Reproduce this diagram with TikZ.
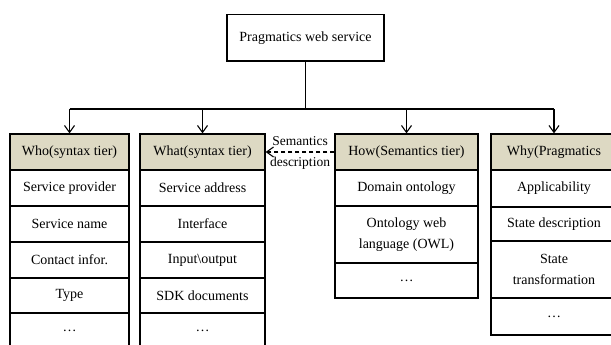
\documentclass[tikz,border=0pt]{standalone}
\usepackage{fontspec}
\setmainfont{Liberation Serif}
\usetikzlibrary{arrows.meta}
\definecolor{hdr}{RGB}{221,217,195}
\begin{document}
\begin{tikzpicture}[x=1pt,y=-1pt,
  cell/.style={draw, line width=1.2pt, inner sep=0pt, align=center,
    font=\fontsize{14}{21.5}\selectfont},
  hdrcell/.style={cell, fill=hdr},
  link/.style={line width=1.2pt},
  tip/.style={-{Straight Barb[length=7pt,width=10pt,line width=1.1pt]}},
  semlink/.style={link, tip, dash pattern=on 4pt off 3pt},
  note/.style={inner sep=0pt, align=center, font=\fontsize{13.5}{21}\selectfont},
]
\useasboundingbox (0,0) rectangle (611,345);
\clip (0,0) rectangle (611,345);

% root
\node[cell, minimum width=157pt, minimum height=46.5pt] (root) at (305.5,37.75) {Pragmatics web service};

% Who column
\begin{scope}[every node/.style={minimum width=119pt}]
\node[hdrcell, minimum height=36pt] (whoh) at (69.5,152) {Who(syntax tier)};
\node[cell, minimum height=36pt] (who1) at (69.5,188) {Service provider};
\node[cell, minimum height=36pt] (who2) at (69.5,224) {Service name};
\node[cell, minimum height=36pt] (who3) at (69.5,260) {Contact infor.};
\node[cell, minimum height=35pt] (who4) at (69.5,295.5) {Type};
\node[cell, minimum height=36pt] (who5) at (69.5,331) {\dots};
\end{scope}

% What column
\begin{scope}[every node/.style={minimum width=125pt}]
\node[hdrcell, minimum height=36pt] (whath) at (202.5,152) {What(syntax tier)};
\node[cell, minimum height=36pt] (what1) at (202.5,188) {Service address};
\node[cell, minimum height=36pt] (what2) at (202.5,224) {Interface};
\node[cell, minimum height=36pt] (what3) at (202.5,260) {Input\textbackslash output};
\node[cell, minimum height=35pt] (what4) at (202.5,295.5) {SDK documents};
\node[cell, minimum height=36pt] (what5) at (202.5,331) {\dots};
\end{scope}

% How column
\begin{scope}[every node/.style={minimum width=143pt}]
\node[hdrcell, minimum height=36pt] (howh) at (406.5,152) {How(Semantics tier)};
\node[cell, minimum height=36pt] (how1) at (406.5,188) {Domain ontology};
\node[cell, minimum height=57pt] (how2) at (406.5,234.5) {Ontology web\\language (OWL)};
\node[cell, minimum height=35pt] (how3) at (406.5,280.5) {\dots};
\end{scope}

% Why column
\begin{scope}[every node/.style={minimum width=126pt}]
\node[hdrcell, minimum height=36pt] (whyh) at (554,152) {Why(Pragmatics};
\node[cell, minimum height=37pt] (why1) at (554,188.5) {Applicability};
\node[cell, minimum height=34pt] (why2) at (554,224) {State description};
\node[cell, minimum height=57pt] (why3) at (554,269.5) {State\\transformation};
\node[cell, minimum height=37pt] (why4) at (554,316.5) {\dots};
\end{scope}

% tree connectors
\coordinate (bus) at (305.5,109);
\draw[link] (root.south) -- (bus);
\draw[link] (whoh.north |- bus) -- (whyh.north |- bus);
\foreach \c in {whoh,whath,howh,whyh}
  \draw[link, tip] (\c.north |- bus) -- (\c.north);

% semantics link
\node[note] (sem) at (300,152.5) {Semantics\\description};
\draw[semlink] (howh.west) -- (whath.east);
\end{tikzpicture}
\end{document}
